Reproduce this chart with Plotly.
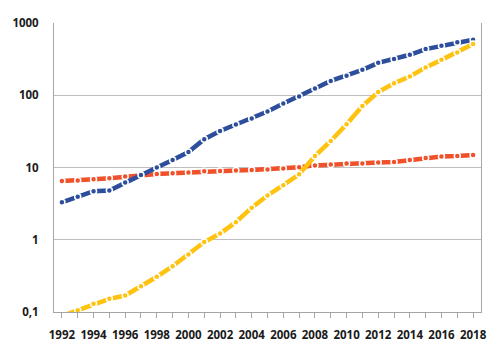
import plotly.graph_objects as go

years = list(range(1992, 2019))

blue = [3.3, 3.95, 4.7, 4.8, 6.2, 7.9, 10.0, 12.7, 16.4, 24.6, 32, 39.4, 47.7, 59.6,
        77, 96, 124, 158, 186, 225, 281, 317, 363, 436, 484, 540, 587]
orange = [6.5, 6.6, 6.9, 7.1, 7.5, 7.8, 8.1, 8.3, 8.5, 8.9, 8.95, 9.1, 9.2, 9.4,
          9.7, 10.1, 10.7, 11.0, 11.4, 11.4, 11.7, 11.9, 12.7, 13.5, 14.2, 14.4, 14.9]
yellow = [0.088, 0.106, 0.13, 0.152, 0.169, 0.227, 0.307, 0.43, 0.625, 0.93, 1.22,
          1.75, 2.78, 4.1, 5.7, 8.05, 14.4, 23.3, 39.7, 71, 111, 147, 182, 243, 309, 392, 512]

y_tickvals = [0.1, 1, 10, 100, 1000]
y_ticktext = ["0,1", "1", "10", "100", "1000"]
x_ticktext = [str(y) if (y - 1992) % 2 == 0 else "" for y in years]

series = [
    ("orange", orange, "#F0502A"),
    ("blue", blue, "#2D4E9C"),
    ("yellow", yellow, "#FFC20E"),
]

fig = go.Figure()
for name, vals, col in series:
    fig.add_trace(go.Scatter(
        x=years, y=vals, mode="lines+markers", name=name,
        line=dict(color=col, width=4.5),
        marker=dict(size=6, color=col, line=dict(color="white", width=1.5)),
        showlegend=False, cliponaxis=True,
    ))

fig.update_layout(
    width=500, height=354,
    margin=dict(l=48, r=19, t=23, b=42),
    paper_bgcolor="white", plot_bgcolor="white",
    font=dict(family="Open Sans", size=11.5, color="#1a1a1a", weight="bold"),
)
fig.update_xaxes(
    range=[1991.5, 2018.5], tickvals=years, ticktext=x_ticktext,
    ticks="outside", ticklen=5, tickcolor="#A6A6A6", tickwidth=1,
    showline=True, linecolor="#A6A6A6", linewidth=1,
    showgrid=False, zeroline=False, ticklabelstandoff=7,
)
fig.update_yaxes(
    type="log", range=[-1, 3], tickvals=y_tickvals, ticktext=y_ticktext,
    showgrid=True, gridcolor="#BFBFBF", gridwidth=1,
    showline=True, linecolor="#A6A6A6", linewidth=1, mirror=True,
    ticks="", ticklabelstandoff=12, zeroline=False,
)

fig.write_html("out.html")
